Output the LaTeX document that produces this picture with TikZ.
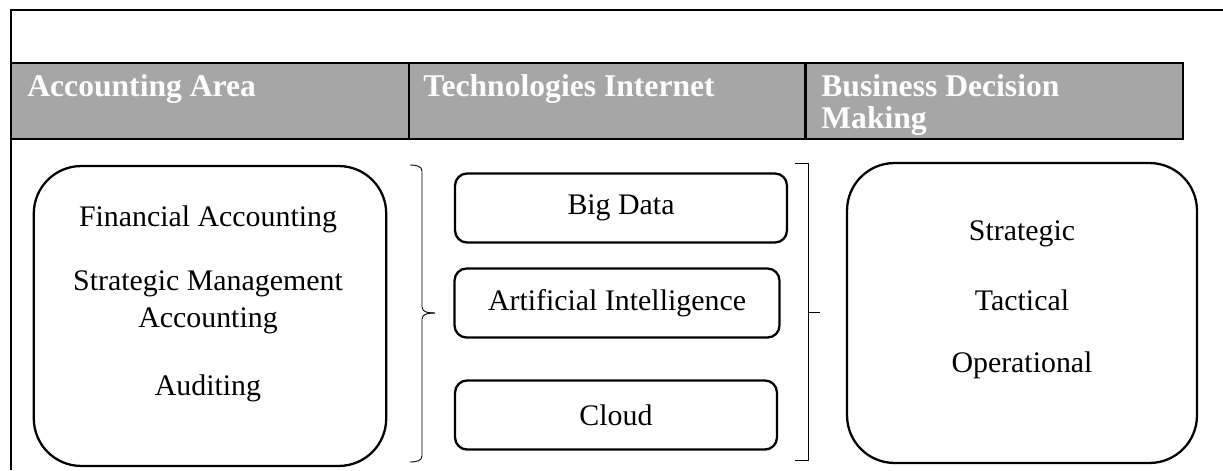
\documentclass[tikz,border=0pt]{standalone}
\usepackage{fontspec}
\setmainfont{Liberation Serif}
\usepackage{tikz}
\usepackage{xcolor}
\definecolor{hdrgray}{HTML}{A6A6A6}

\begin{document}
\begin{tikzpicture}[x=0.02cm,y=-0.02cm,
    hdrtext/.style={anchor=base west,inner sep=0pt,align=left,text=white,
        font=\bfseries\fontsize{18pt}{18.2pt}\selectfont},
    bodytext/.style={inner sep=0pt,font=\fontsize{17pt}{21pt}\selectfont},
    bigbox/.style={draw,line width=1.3pt,rounded corners=0.95cm,
        minimum width=7.05cm,minimum height=6cm},
    techbox/.style={draw,line width=1.3pt,rounded corners=0.24cm,
        minimum height=1.38cm,font=\fontsize{17pt}{21pt}\selectfont},
    bracket/.style={line width=0.5pt}]
        \useasboundingbox (0,0) rectangle (1223,470);

        % Frame
        \draw[line width=1.4pt] (1223,10) -- (11,10) -- (11,470);

        % Header band
        \draw[line width=1.4pt,fill=hdrgray] (11,63) rectangle (805,139);
        \draw[line width=0.8pt] (409,63) -- (409,139);
        \draw[line width=1.4pt,fill=hdrgray] (806,63) rectangle (1183,139);
        \node[hdrtext] (hacc) at (27,96) {Accounting Area};
        \node[hdrtext] (htech) at (423,96) {Technologies Internet};
        \node[hdrtext] (hbus) at (821,128) {Business Decision\\Making};

        % Accounting area
        \node[bigbox] (acc) at (210,316) {};
        \node[bodytext] (fin) at (208,219) {Financial Accounting};
        \node[bodytext,align=center] (sma) at (208,302) {Strategic Management\\Accounting};
        \node[bodytext] (aud) at (208,388) {Auditing};

        % Left bracket
        \draw[bracket] (410,165) to[out=0,in=90] (422,171) -- (422,307)
            to[out=-90,in=180] (435,313);
        \draw[bracket] (435,313) to[out=180,in=90] (422,319) -- (422,456)
            to[out=-90,in=0] (410,462);

        % Technologies
        \node[techbox,minimum width=6.64cm] (bd) at (621,208) {Big Data};
        \node[techbox,minimum width=6.5cm] (ai) at (617,303) {Artificial Intelligence};
        \node[techbox,minimum width=6.44cm] (cl) at (616,415) {Cloud};

        % Right bracket
        \draw[bracket] (795,163) -- (808,163) -- (808,460) -- (795,460);
        \draw[bracket] (808,312) -- (820,312);

        % Decision making
        \node[bigbox,minimum width=7cm] (dec) at (1022,313) {};
        \node[bodytext] (str) at (1022,234) {Strategic};
        \node[bodytext] (tac) at (1022,300) {Tactical};
        \node[bodytext] (ope) at (1022,365) {Operational};
    \end{tikzpicture}
\end{document}
